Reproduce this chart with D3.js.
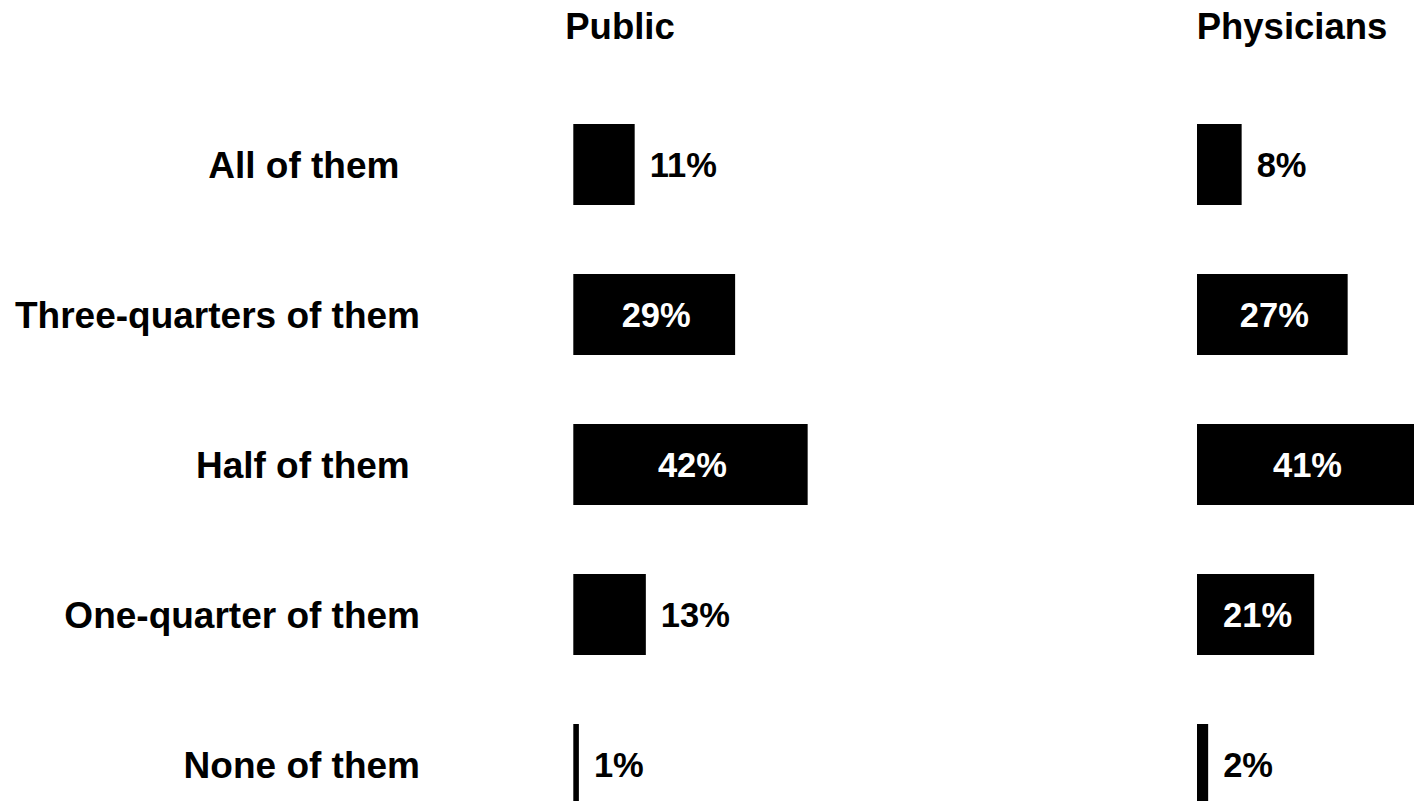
<!DOCTYPE html>
<html>
<head>
<meta charset="utf-8">
<script src="https://cdn.jsdelivr.net/npm/d3@7/dist/d3.min.js"></script>
<style>
  html, body { margin: 0; padding: 0; background: #fff; }
  svg { display: block; font-family: "Liberation Sans", Arial, sans-serif; font-weight: bold; }
</style>
</head>
<body>
<svg id="chart" width="1414" height="801"></svg>
<script>
// ---- data ----
const categories = ["All of them", "Three-quarters of them", "Half of them", "One-quarter of them", "None of them"];
const categoryLabels = ["All of them  ", "Three-quarters of them", "Half of them ", "One-quarter of them", "None of them"];
const seriesNames = ["Public", "Physicians"];
const publicValues = [11, 29, 42, 13, 1];
const physicianValues = [8, 27, 41, 21, 2];

// ---- layout ----
const W = 1414, H = 801;
const svg = d3.select("#chart");
const panels = [
  { name: seriesNames[0], values: publicValues, x0: 573.3, titleX: 620 },
  { name: seriesNames[1], values: physicianValues, x0: 1197, titleX: 1292 }
];
const pxPerUnitRange = 558; // pixels covering 0..100

const y = d3.scaleBand()
  .domain(categories)
  .range([124, 805])
  .paddingInner(0.46)
  .paddingOuter(0);

// category labels
svg.append("g").selectAll("text")
  .data(categories)
  .join("text")
  .attr("x", 420)
  .attr("y", d => y(d) + y.bandwidth() / 2)
  .attr("dy", "0.36em")
  .attr("text-anchor", "end")
  .style("white-space", "pre")
  .attr("font-size", 37)
  .attr("fill", "#000")
  .text((d, i) => categoryLabels[i]);

panels.forEach(p => {
  const x = d3.scaleLinear().domain([0, 100]).range([p.x0, p.x0 + pxPerUnitRange]);
  const g = svg.append("g");

  g.append("text")
    .attr("x", p.titleX)
    .attr("y", 39)
    .attr("text-anchor", "middle")
    .attr("font-size", 36.5)
    .attr("fill", "#000")
    .text(p.name);

  const rows = categories.map((c, i) => ({ c, v: p.values[i] }));

  g.selectAll("rect")
    .data(rows)
    .join("rect")
    .attr("x", x(0))
    .attr("y", d => y(d.c))
    .attr("width", d => x(d.v) - x(0))
    .attr("height", y.bandwidth())
    .attr("fill", "#000");

  g.selectAll("text.val")
    .data(rows)
    .join("text")
    .attr("class", "val")
    .attr("font-size", 34.5)
    .attr("y", d => y(d.c) + y.bandwidth() / 2)
    .attr("dy", "0.36em")
    .text(d => d.v + "%")
    .each(function(d) {
      const t = d3.select(this);
      const tw = this.getComputedTextLength();
      const bw = x(d.v) - x(0);
      if (bw > tw + 30) {
        const end = Math.min(x(d.v), W);
        t.attr("x", (x(0) + end) / 2 + 2).attr("text-anchor", "middle").attr("fill", "#fff");
      } else {
        t.attr("x", x(d.v) + 15).attr("text-anchor", "start").attr("fill", "#000");
      }
    });
});
</script>
</body>
</html>
